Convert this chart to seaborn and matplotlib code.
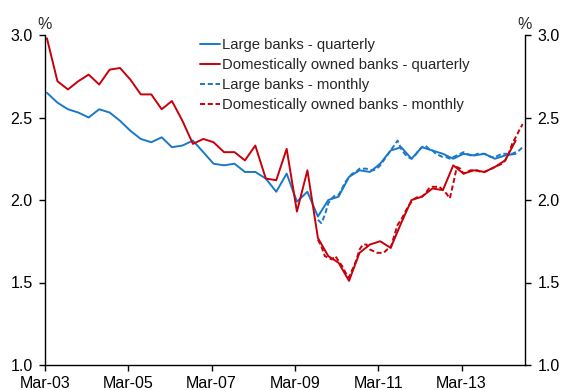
import pandas as pd
import matplotlib
matplotlib.use("Agg")
import matplotlib.pyplot as plt
import matplotlib.dates as mdates
import seaborn as sns

# quarterly series, Mar-03 .. Jun-14 (per cent)
large_q = [2.65, 2.59, 2.55, 2.53, 2.50, 2.55, 2.53, 2.48, 2.42, 2.37,
           2.35, 2.38, 2.32, 2.33, 2.36, 2.29, 2.22, 2.21, 2.22, 2.17,
           2.17, 2.13, 2.05, 2.16, 1.99, 2.05, 1.90, 2.00, 2.02, 2.14,
           2.18, 2.17, 2.22, 2.30, 2.32, 2.25, 2.32, 2.30, 2.28, 2.25,
           2.28, 2.27, 2.28, 2.25, 2.27, 2.28]
domestic_q = [2.98, 2.72, 2.67, 2.72, 2.76, 2.70, 2.79, 2.80, 2.73, 2.64,
              2.64, 2.55, 2.60, 2.48, 2.34, 2.37, 2.35, 2.29, 2.29, 2.24,
              2.33, 2.13, 2.12, 2.31, 1.93, 2.18, 1.77, 1.66, 1.62, 1.51,
              1.68, 1.73, 1.75, 1.71, 1.86, 2.00, 2.02, 2.07, 2.06, 2.21,
              2.16, 2.18, 2.17, 2.20, 2.24, 2.36]

# monthly series, Sep-09 .. Aug-14
large_m = [1.88, 1.86, 1.91, 1.98, 2.01, 2.03, 2.03, 2.07, 2.11, 2.14,
           2.16, 2.17, 2.19, 2.19, 2.19, 2.18, 2.18, 2.19, 2.21, 2.24,
           2.27, 2.30, 2.33, 2.36, 2.31, 2.28, 2.26, 2.25, 2.27, 2.30,
           2.32, 2.33, 2.31, 2.30, 2.28, 2.27, 2.26, 2.26, 2.25, 2.26,
           2.27, 2.28, 2.29, 2.28, 2.27, 2.27, 2.28, 2.28, 2.28, 2.27,
           2.26, 2.26, 2.27, 2.28, 2.28, 2.28, 2.28, 2.29, 2.30, 2.32]
domestic_m = [1.76, 1.72, 1.66, 1.65, 1.64, 1.66, 1.63, 1.60, 1.56, 1.53,
              1.58, 1.63, 1.70, 1.73, 1.73, 1.70, 1.69, 1.68, 1.68, 1.68,
              1.70, 1.71, 1.78, 1.85, 1.88, 1.92, 1.96, 1.99, 2.01, 2.02,
              2.02, 2.04, 2.07, 2.08, 2.08, 2.08, 2.06, 2.04, 2.01, 2.10,
              2.20, 2.19, 2.16, 2.17, 2.18, 2.18, 2.18, 2.17, 2.17, 2.18,
              2.19, 2.20, 2.21, 2.22, 2.24, 2.28, 2.34, 2.38, 2.42, 2.46]

q_dates = pd.date_range("2003-03-01", periods=len(large_q), freq="3MS") + pd.Timedelta(days=17)
m_dates = pd.date_range("2009-09-01", periods=len(large_m), freq="MS") + pd.Timedelta(days=17)

blue = "#1a78c8"
red = "#c8000a"
fs = 11.5

sns.set_style("ticks")
plt.rcParams["font.family"] = ["Liberation Sans", "DejaVu Sans"]

fig = plt.figure(figsize=(5.61, 3.90), dpi=100)
ax = fig.add_axes([45 / 561, 1 - 365 / 390, 480 / 561, 330 / 390])

series = [
    (q_dates, large_q, "Large banks - quarterly", blue, "-"),
    (q_dates, domestic_q, "Domestically owned banks - quarterly", red, "-"),
    (m_dates, large_m, "Large banks - monthly", blue, (0, (2.6, 1.4))),
    (m_dates, domestic_m, "Domestically owned banks - monthly", red, (0, (2.6, 1.4))),
]
for x, y, name, col, ls in series:
    df = pd.DataFrame({"date": x, "value": y})
    sns.lineplot(data=df, x="date", y="value", ax=ax, color=col, linestyle=ls,
                 linewidth=1.4, label=name)

ax.set_xlim(pd.Timestamp("2003-03-01"), pd.Timestamp("2014-09-08"))
ax.set_ylim(1.0, 3.0)
ax.set_yticks([1.0, 1.5, 2.0, 2.5, 3.0])
ax.yaxis.set_major_formatter(matplotlib.ticker.FormatStrFormatter("%.1f"))
ax.set_xticks(pd.date_range("2003-03-01", "2013-03-01", freq="24MS"))
ax.xaxis.set_major_formatter(mdates.DateFormatter("%b-%y"))
ax.set_xlabel("")
ax.set_ylabel("")

for side in ["left", "right", "bottom"]:
    ax.spines[side].set_visible(True)
    ax.spines[side].set_color("black")
    ax.spines[side].set_linewidth(1.0)
ax.spines["top"].set_visible(False)

ax.tick_params(axis="y", which="both", left=True, right=True, labelleft=True,
               labelright=True, direction="out", length=4, width=1.0,
               pad=5, labelsize=fs, colors="black")
ax.tick_params(axis="x", direction="out", length=4, width=1.0, pad=4,
               labelsize=fs, colors="black")

ax.text(0, 1.008, "%", transform=ax.transAxes, ha="center", va="bottom", fontsize=fs)
ax.text(1, 1.008, "%", transform=ax.transAxes, ha="center", va="bottom", fontsize=fs)

ax.legend(loc="upper left", bbox_to_anchor=(0.323, 0.99), frameon=False,
          fontsize=10.7, handlelength=1.35, handletextpad=0.1,
          labelspacing=0.4, borderpad=0, borderaxespad=0)

fig.savefig("out.png", dpi=100)
